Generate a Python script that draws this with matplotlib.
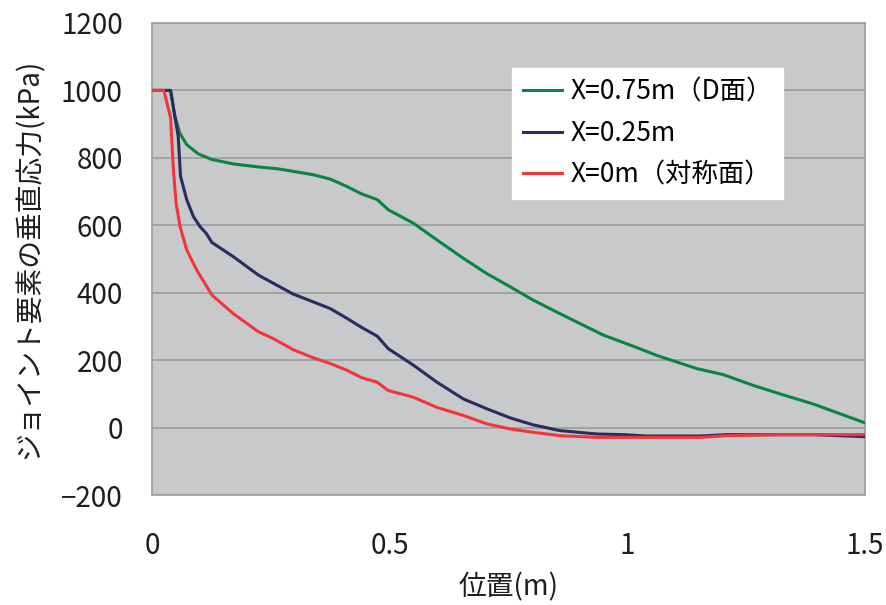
import matplotlib
matplotlib.use('Agg')
import matplotlib.pyplot as plt

plt.rcParams['font.family'] = ['Noto Sans CJK JP', 'DejaVu Sans']

# X=0.75m (D面)
x_d = [0.0, 0.025, 0.039, 0.048, 0.053, 0.058, 0.073, 0.097, 0.126, 0.171, 0.224,
       0.262, 0.297, 0.339, 0.375, 0.410, 0.441, 0.474, 0.497, 0.550, 0.599,
       0.655, 0.704, 0.753, 0.802, 0.858, 0.950, 1.013, 1.062, 1.146, 1.202,
       1.265, 1.321, 1.391, 1.5]
y_d = [1000, 1000, 1000, 923, 900, 874, 839, 812, 795, 782, 773,
       768, 760, 750, 737, 715, 693, 676, 646, 606, 557,
       502, 457, 418, 378, 338, 274, 241, 214, 175, 157,
       125, 100, 70, 14]

# X=0.25m
x_q = [0.0, 0.025, 0.039, 0.048, 0.055, 0.060, 0.073, 0.087, 0.101, 0.114, 0.126,
       0.171, 0.224, 0.297, 0.375, 0.410, 0.441, 0.474, 0.497, 0.550, 0.599,
       0.655, 0.704, 0.753, 0.802, 0.858, 0.936, 0.992, 1.041, 1.153, 1.209,
       1.391, 1.5]
y_q = [1000, 1000, 1000, 923, 864, 745, 676, 626, 596, 576, 549,
       507, 452, 396, 353, 324, 297, 271, 234, 185, 135,
       85, 56, 29, 8, -9, -19, -21, -25, -25, -21,
       -21, -27]

# X=0m (対称面)
x_s = [0.0, 0.025, 0.039, 0.045, 0.0505, 0.059, 0.073, 0.094, 0.111, 0.126,
       0.171, 0.224, 0.255, 0.297, 0.339, 0.375, 0.410, 0.441, 0.473, 0.497,
       0.550, 0.599, 0.655, 0.704, 0.753, 0.802, 0.858, 0.936, 1.153, 1.209,
       1.321, 1.5]
y_s = [1000, 1000, 919, 765, 666, 596, 527, 467, 428, 393,
       338, 284, 264, 231, 207, 190, 170, 148, 135, 110,
       90, 60, 36, 11, -4, -14, -24, -29, -29, -24,
       -21, -21]

labels = ['X=0.75m（D面）', 'X=0.25m', 'X=0m（対称面）']
colors = ['#0A8442', '#2A2B5E', '#F2353B']

fig = plt.figure(figsize=(8.86, 6.05), dpi=100)
ax = fig.add_axes([0.1716, 0.1818, 0.8047, 0.7802])
ax.set_facecolor('#C8C9CB')

ax.plot(x_d, y_d, color=colors[0], lw=2.2, label=labels[0], zorder=3)
ax.plot(x_q, y_q, color=colors[1], lw=2.2, label=labels[1], zorder=3)
ax.plot(x_s, y_s, color=colors[2], lw=2.2, label=labels[2], zorder=4)

ax.set_xlim(0, 1.5)
ax.set_ylim(-200, 1200)
ax.set_xticks([0, 0.5, 1, 1.5])
ax.set_xticklabels(['0', '0.5', '1', '1.5'])
ax.set_yticks(range(-200, 1201, 200))
ax.set_yticklabels(['−200', '0', '200', '400', '600', '800', '1000', '1200'])
ax.grid(axis='y', color='#9C9C9C', lw=1.2)
ax.set_axisbelow(True)
ax.tick_params(length=0, labelsize=20, colors='#1E1E1E')
ax.tick_params(axis='x', pad=26)
ax.tick_params(axis='y', pad=21)
for s in ax.spines.values():
    s.set_color('#9C9C9C')
    s.set_linewidth(1.2)

ax.set_xlabel('位置(m)', fontsize=20, color='#1E1E1E', labelpad=8)
ax.set_ylabel('ジョイント要素の垂直応力(kPa)', fontsize=20, color='#1E1E1E', labelpad=12)

leg = ax.legend(loc='upper left', bbox_to_anchor=(0.505, 0.905), fontsize=19,
                frameon=True, fancybox=False, handlelength=1.5, handletextpad=0.3,
                borderpad=0.4, labelspacing=0.55, borderaxespad=0)
leg.get_frame().set_facecolor('white')
leg.get_frame().set_edgecolor('white')
leg.get_frame().set_alpha(1)

plt.savefig('out.png', dpi=100, facecolor='white')
